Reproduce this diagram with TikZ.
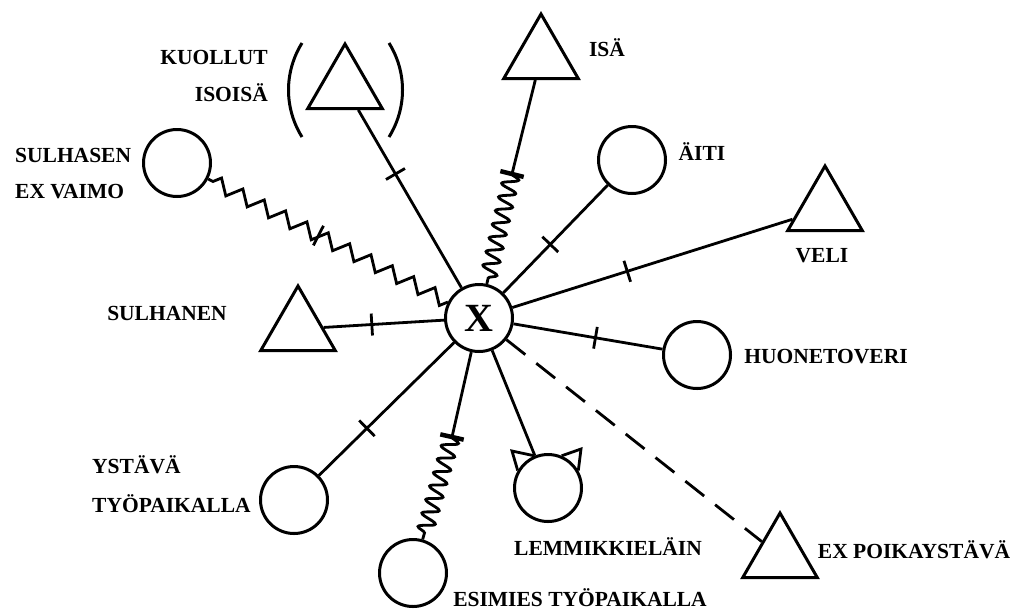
\documentclass[tikz,border=0pt]{standalone}
\usepackage{fontspec}
\setmainfont{Liberation Serif}
\usetikzlibrary{shapes.geometric,decorations.pathmorphing}
\begin{document}
\begin{tikzpicture}[x=1pt,y=-1pt,
 person/.style={circle,draw,line width=3pt,minimum size=67pt,inner sep=0pt},
 male/.style={regular polygon,regular polygon sides=3,draw,line width=3pt,minimum size=86pt,inner sep=0pt},
 lab/.style={font=\bfseries\fontsize{21.5}{24}\selectfont,inner sep=0pt},
 tie/.style={line width=2.8pt},
 tickbar/.style={sloped,fill=black,minimum width=2.8pt,minimum height=22pt,inner sep=0pt,draw=none},
 springbar/.style={sloped,fill=black,minimum width=4.5pt,minimum height=24pt,inner sep=0pt,draw=none},
 spring/.style={line width=2.8pt,decorate,decoration={snake,amplitude=8pt,segment length=14pt}},
 zz/.style={line width=2.8pt,decorate,decoration={zigzag,amplitude=7pt,segment length=24pt}},
 dashtie/.style={line width=2.8pt,dash pattern=on 24pt off 14pt}]
\useasboundingbox (0,0) rectangle (1016,614);

% centre
\node[person,font=\bfseries\fontsize{40}{40}\selectfont] (X) at (479,318) {X};

% persons
\node[male] (iso) at (345,87) {};
\node[male] (isa) at (541,57) {};
\node[person] (aiti) at (632,160) {};
\node[male] (veli) at (825,209) {};
\node[person] (sev) at (177,163) {};
\node[male] (sul) at (298,329) {};
\node[person] (huo) at (697,355) {};
\node[person] (yst) at (294,500) {};
\node[person] (lem) at (548,488) {};
\node[person] (esi) at (413,573) {};
\node[male] (exp) at (780,556) {};

% parentheses round the dead grandfather
\draw[line width=3pt] (302,43) .. controls (284,72) and (284,108) .. (302,137);
\draw[line width=3pt] (389,43) .. controls (407,72) and (407,108) .. (389,137);

% cat ears
\draw[line width=2.8pt,line join=miter] (lem.150) -- (512,451) -- (lem.113);
\draw[line width=2.8pt,line join=miter] (lem.67) -- (581,449) -- (lem.30);

% connectors
\draw[tie] (X) -- node[tickbar,pos=0.64]{} (iso);
\draw[tie] (X) -- node[tickbar,pos=0.45]{} (aiti);
\draw[tie] (X) -- node[tickbar,pos=0.41]{} (veli);
\draw[tie] (X) -- node[tickbar,pos=0.6]{} (sul);
\draw[tie] (X) -- node[tickbar,pos=0.55]{} (huo);
\draw[tie] (X) -- node[tickbar,pos=0.645]{} (yst);
\draw[tie] (X) -- (lem);
\draw[dashtie] (X) -- (exp);

\draw[zz] (X) -- (sev);
\path (X) -- node[tickbar,pos=0.54]{} (sev);

\coordinate (isaS) at (512,174);
\draw[tie] (isa) -- (isaS);
\draw[spring] (isaS) -- (X);
\path (isa) -- (isaS) node[springbar,pos=1]{};

\coordinate (esS) at (452,437);
\draw[tie] (X) -- (esS);
\draw[spring] (esS) -- (esi);
\path (X) -- (esS) node[springbar,pos=1]{};

% labels
\node[lab,anchor=east] (tKu) at (268,57) {KUOLLUT};
\node[lab,anchor=east] (tIs) at (268,93) {ISOIS\"A};
\node[lab] (tIsa) at (607,48) {IS\"A};
\node[lab] (tAi) at (702,152) {\"AITI};
\node[lab] (tVe) at (822,256) {VELI};
\node[lab,anchor=west] (tSu1) at (15,155) {SULHASEN};
\node[lab,anchor=west] (tSu2) at (15,192) {EX VAIMO};
\node[lab] (tSul) at (167,313) {SULHANEN};
\node[lab] (tHu) at (826,357) {HUONETOVERI};
\node[lab,anchor=west] (tYs1) at (92,465) {YST\"AV\"A};
\node[lab,anchor=west] (tYs2) at (92,504) {TY\"OPAIKALLA};
\node[lab] (tLe) at (608,547) {LEMMIKKIEL\"AIN};
\node[lab] (tEs) at (580,598) {ESIMIES TY\"OPAIKALLA};
\node[lab] (tEx) at (914,550) {EX POIKAYST\"AV\"A};
\end{tikzpicture}
\end{document}
